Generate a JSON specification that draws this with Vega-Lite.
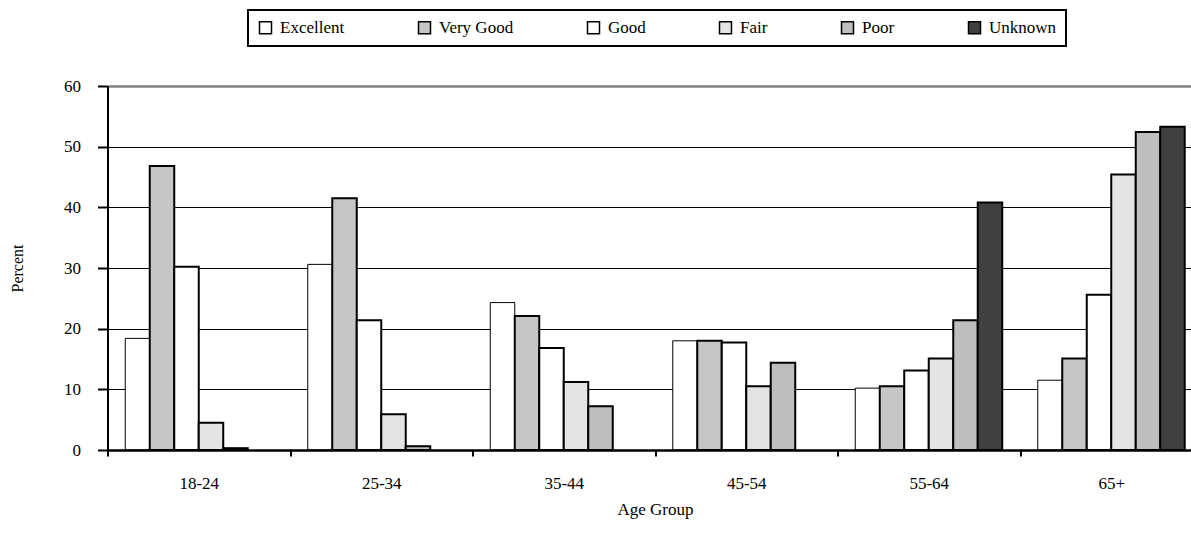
{
  "$schema": "https://vega.github.io/schema/vega-lite/v6.json",
  "width": 1095,
  "height": 364,
  "autosize": {"type": "none"},
  "padding": {"left": 107.5, "top": 86, "right": -11.5, "bottom": 88},
  "background": "white",
  "config": {
    "view": {"stroke": null},
    "font": "Liberation Serif",
    "legend": {"strokeWidth": 2}
  },
  "data": {
    "values": [
      {"age": "18-24", "rating": "Excellent", "percent": 18.4},
      {"age": "18-24", "rating": "Very Good", "percent": 46.8},
      {"age": "18-24", "rating": "Good", "percent": 30.2},
      {"age": "18-24", "rating": "Fair", "percent": 4.5},
      {"age": "18-24", "rating": "Poor", "percent": 0.3},
      {"age": "25-34", "rating": "Excellent", "percent": 30.6},
      {"age": "25-34", "rating": "Very Good", "percent": 41.5},
      {"age": "25-34", "rating": "Good", "percent": 21.4},
      {"age": "25-34", "rating": "Fair", "percent": 5.9},
      {"age": "25-34", "rating": "Poor", "percent": 0.6},
      {"age": "35-44", "rating": "Excellent", "percent": 24.3},
      {"age": "35-44", "rating": "Very Good", "percent": 22.1},
      {"age": "35-44", "rating": "Good", "percent": 16.8},
      {"age": "35-44", "rating": "Fair", "percent": 11.2},
      {"age": "35-44", "rating": "Poor", "percent": 7.2},
      {"age": "45-54", "rating": "Excellent", "percent": 18.0},
      {"age": "45-54", "rating": "Very Good", "percent": 18.0},
      {"age": "45-54", "rating": "Good", "percent": 17.7},
      {"age": "45-54", "rating": "Fair", "percent": 10.5},
      {"age": "45-54", "rating": "Poor", "percent": 14.4},
      {"age": "55-64", "rating": "Excellent", "percent": 10.2},
      {"age": "55-64", "rating": "Very Good", "percent": 10.5},
      {"age": "55-64", "rating": "Good", "percent": 13.1},
      {"age": "55-64", "rating": "Fair", "percent": 15.1},
      {"age": "55-64", "rating": "Poor", "percent": 21.4},
      {"age": "55-64", "rating": "Unknown", "percent": 40.8},
      {"age": "65+", "rating": "Excellent", "percent": 11.5},
      {"age": "65+", "rating": "Very Good", "percent": 15.1},
      {"age": "65+", "rating": "Good", "percent": 25.6},
      {"age": "65+", "rating": "Fair", "percent": 45.4},
      {"age": "65+", "rating": "Poor", "percent": 52.4},
      {"age": "65+", "rating": "Unknown", "percent": 53.3}
    ]
  },
  "mark": {"type": "bar", "stroke": "black"},
  "encoding": {
    "x": {
      "field": "age",
      "type": "nominal",
      "sort": ["18-24", "25-34", "35-44", "45-54", "55-64", "65+"],
      "scale": {"paddingInner": 0, "paddingOuter": 0},
      "axis": {
        "title": "Age Group",
        "labelAngle": 0,
        "tickBand": "extent",
        "zindex": 1,
        "domainColor": "black",
        "domainWidth": 2.5,
        "tickColor": "black",
        "tickWidth": 2,
        "tickSize": 6,
        "labelFont": "Liberation Serif",
        "labelFontSize": 17,
        "labelColor": "black",
        "labelPadding": 19,
        "titleFont": "Liberation Serif",
        "titleFontSize": 17,
        "titleFontWeight": "normal",
        "titleColor": "black",
        "titlePadding": 10
      }
    },
    "xOffset": {
      "field": "rating",
      "type": "nominal",
      "scale": {
        "domain": ["Excellent", "Very Good", "Good", "Fair", "Poor", "Unknown"],
        "paddingInner": 0,
        "paddingOuter": 0.725
      }
    },
    "y": {
      "field": "percent",
      "type": "quantitative",
      "scale": {"domain": [0, 60], "nice": false},
      "axis": {
        "title": "Percent",
        "values": [0, 10, 20, 30, 40, 50, 60],
        "grid": true,
        "gridColor": {"condition": {"test": "datum.value === 60", "value": "#808080"}, "value": "black"},
        "gridWidth": {"condition": {"test": "datum.value === 60", "value": 2.5}, "value": 1},
        "domainColor": "black",
        "domainWidth": 2,
        "tickColor": "black",
        "tickWidth": 2,
        "tickSize": 10,
        "labelFont": "Liberation Serif",
        "labelFontSize": 17,
        "labelColor": "black",
        "labelPadding": 17,
        "titleFont": "Liberation Serif",
        "titleFontSize": 16,
        "titleFontWeight": "normal",
        "titleColor": "black",
        "titlePadding": 38
      }
    },
    "fill": {
      "field": "rating",
      "type": "nominal",
      "scale": {
        "domain": ["Excellent", "Very Good", "Good", "Fair", "Poor", "Unknown"],
        "range": ["#ffffff", "#c6c6c6", "#ffffff", "#e4e4e4", "#bebebe", "#404040"]
      },
      "legend": {
        "orient": "none",
        "legendX": 140.5,
        "legendY": -76,
        "direction": "horizontal",
        "title": null,
        "strokeColor": "black",
        "padding": 9,
        "symbolType": "square",
        "symbolSize": 144,
        "symbolStrokeColor": "black",
        "symbolStrokeWidth": 1.5,
        "symbolOpacity": 1,
        "labelFont": "Liberation Serif",
        "labelFontSize": 17,
        "labelColor": "black",
        "labelOffset": 6,
        "columnPadding": 70
      }
    },
    "strokeWidth": {
      "condition": {"test": "datum.rating === 'Excellent'", "value": 1},
      "value": 2
    }
  }
}
